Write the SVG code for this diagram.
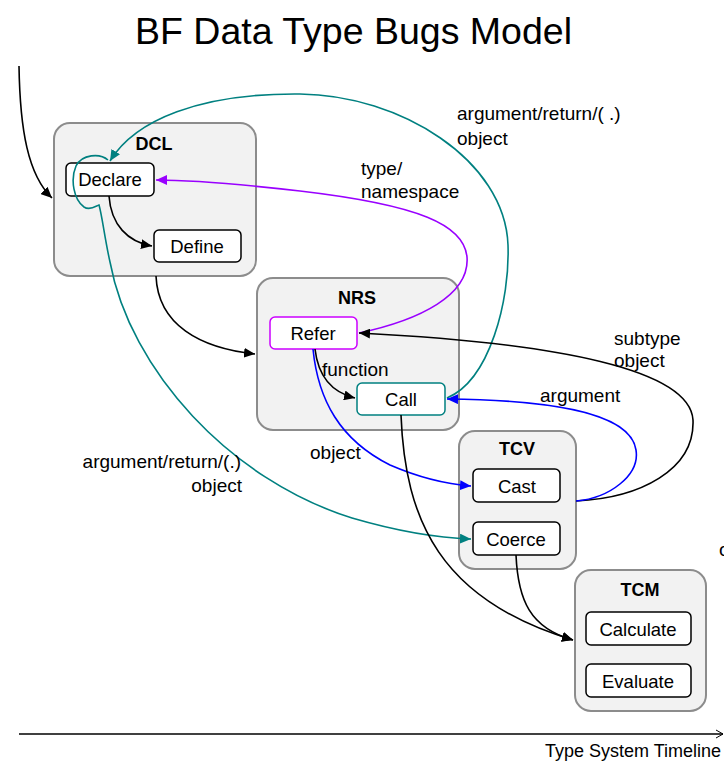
<svg xmlns="http://www.w3.org/2000/svg" width="724" height="763" viewBox="0 0 724 763">
  <style>
    .title { font-family: "Liberation Sans", Arial, sans-serif; font-size: 36px; fill: #000; }
    .group { fill: #f2f2f2; stroke: #8c8c8c; stroke-width: 2; }
    .glabel { font-family: "Liberation Sans", Arial, sans-serif; font-size: 18px; font-weight: bold; text-anchor: middle; fill: #000; }
    .box { fill: #fff; stroke: #000; stroke-width: 1.5; }
    .blabel { font-family: "Liberation Sans", Arial, sans-serif; font-size: 18.5px; text-anchor: middle; fill: #000; }
    .elabel { font-family: "Liberation Sans", Arial, sans-serif; font-size: 19px; fill: #000; }
    .axis { font-family: "Liberation Sans", Arial, sans-serif; font-size: 18px; fill: #000; }
    .edge { fill: none; stroke-width: 1.6; }
    .k { stroke: #000; }
    .t { stroke: #008080; }
    .p { stroke: #9900ff; }
    .b { stroke: #0000ff; }
  </style>
  <defs>
    <marker id="ak" markerUnits="userSpaceOnUse" markerWidth="12" markerHeight="10" refX="11" refY="5" orient="auto">
      <path d="M0,0 L11,5 L0,10 z" fill="#000"/>
    </marker>
    <marker id="at" markerUnits="userSpaceOnUse" markerWidth="12" markerHeight="10" refX="11" refY="5" orient="auto">
      <path d="M0,0 L11,5 L0,10 z" fill="#008080"/>
    </marker>
    <marker id="ap" markerUnits="userSpaceOnUse" markerWidth="12" markerHeight="10" refX="11" refY="5" orient="auto">
      <path d="M0,0 L11,5 L0,10 z" fill="#9900ff"/>
    </marker>
    <marker id="ab" markerUnits="userSpaceOnUse" markerWidth="12" markerHeight="10" refX="11" refY="5" orient="auto">
      <path d="M0,0 L11,5 L0,10 z" fill="#0000ff"/>
    </marker>
    <marker id="open" markerUnits="userSpaceOnUse" markerWidth="8" markerHeight="10" refX="7" refY="5" orient="auto">
      <path d="M0,1 L7,5 L0,9" fill="none" stroke="#000" stroke-width="1"/>
    </marker>
  </defs>

  <rect width="724" height="763" fill="#fff"/>

  <text class="title" x="135" y="44" textLength="437" lengthAdjust="spacingAndGlyphs">BF Data Type Bugs Model</text>

  <!-- stage containers with their inner steps -->
  <g id="DCL">
    <rect class="group" x="54" y="123" width="202" height="153" rx="16"/>
    <text class="glabel" x="154" y="150">DCL</text>
  </g>
  <g id="Declare">
    <rect class="box" x="66" y="163" width="88" height="33" rx="5"/>
    <text class="blabel" x="110" y="186">Declare</text>
  </g>
  <g id="Define">
    <rect class="box" x="154" y="230" width="87" height="32" rx="5"/>
    <text class="blabel" x="197" y="253">Define</text>
  </g>

  <g id="NRS">
    <rect class="group" x="257" y="278" width="202" height="152" rx="16"/>
    <text class="glabel" x="357" y="304">NRS</text>
  </g>
  <g id="Refer">
    <rect class="box" x="270" y="317" width="87" height="32" rx="5" style="stroke:#cc00ff"/>
    <text class="blabel" x="313" y="340">Refer</text>
  </g>
  <g id="Call">
    <rect class="box" x="357" y="383" width="88" height="32" rx="5" style="stroke:#008080"/>
    <text class="blabel" x="401" y="406">Call</text>
  </g>

  <g id="TCV">
    <rect class="group" x="459" y="431" width="117" height="138" rx="16"/>
    <text class="glabel" x="517" y="455">TCV</text>
  </g>
  <g id="Cast">
    <rect class="box" x="473" y="469" width="87" height="33" rx="5"/>
    <text class="blabel" x="517" y="493">Cast</text>
  </g>
  <g id="Coerce">
    <rect class="box" x="473" y="522" width="87" height="33" rx="5"/>
    <text class="blabel" x="516" y="546">Coerce</text>
  </g>

  <g id="TCM">
    <rect class="group" x="575" y="570" width="131" height="141" rx="16"/>
    <text class="glabel" x="640" y="596">TCM</text>
  </g>
  <g id="Calculate">
    <rect class="box" x="586" y="612" width="105" height="33" rx="5"/>
    <text class="blabel" x="638" y="636">Calculate</text>
  </g>
  <g id="Evaluate">
    <rect class="box" x="586" y="664" width="105" height="33" rx="5"/>
    <text class="blabel" x="638" y="688">Evaluate</text>
  </g>

  <!-- connectors -->
  <g id="connectors">
    <path class="edge k" d="M19,66 C20,130 28,175 52,198" marker-end="url(#ak)"/>
    <path class="edge k" d="M109,196 C111,225 128,242 152,246" marker-end="url(#ak)"/>
    <path class="edge k" d="M156,276 C158,325 200,348 255,354" marker-end="url(#ak)"/>
    <path class="edge k" d="M315,349 C318,375 330,392 355,398" marker-end="url(#ak)"/>
    <path class="edge b" d="M313,349 C318,400 340,440 390,465 C420,478 445,484 471,486" marker-end="url(#ab)"/>
    <path class="edge t" d="M447,398 C490,380 510,300 508,245 C505,160 400,95 300,94 C200,93 135,120 110,161" marker-end="url(#at)"/>
    <path class="edge t" d="M108,160 C100,153 82,154 76,166 C70,180 74,200 84,207 C90,211 96,206 99,205 C102,215 105,240 110,262 C130,370 230,480 352,518 C400,532 440,538 471,539" marker-end="url(#at)"/>
    <path class="edge p" d="M359,333 C420,320 470,295 467,257 C464,225 420,205 300,191 C230,183 190,180 156,180" marker-end="url(#ap)"/>
    <path class="edge k" d="M576,501 C640,498 695,470 693,420 C690,370 560,343 359,333" marker-end="url(#ak)"/>
    <path class="edge b" d="M576,501 C610,498 640,475 636,450 C630,410 540,400 447,399" marker-end="url(#ab)"/>
    <path class="edge k" d="M401,415 C405,520 440,600 573,640" marker-end="url(#ak)"/>
    <path class="edge k" d="M516,555 C518,600 530,628 573,640" marker-end="url(#ak)"/>

    <text class="elabel" x="457" y="120">argument/return/( .)</text>
    <text class="elabel" x="457" y="145">object</text>
    <text class="elabel" x="361" y="175">type/</text>
    <text class="elabel" x="361" y="198">namespace</text>
    <text class="elabel" x="322" y="376">function</text>
    <text class="elabel" x="614" y="345">subtype</text>
    <text class="elabel" x="614" y="367">object</text>
    <text class="elabel" x="540" y="402">argument</text>
    <text class="elabel" x="310" y="459">object</text>
    <text class="elabel" x="241" y="468" text-anchor="end">argument/return/(.)</text>
    <text class="elabel" x="242" y="492" text-anchor="end">object</text>
    <text class="elabel" x="719" y="556">o</text>
  </g>

  <!-- timeline axis -->
  <g id="timeline">
    <path d="M19,734 L723,734" stroke="#000" stroke-width="1.6" fill="none" marker-end="url(#open)"/>
    <text class="axis" x="545" y="757">Type System Timeline</text>
  </g>
</svg>
